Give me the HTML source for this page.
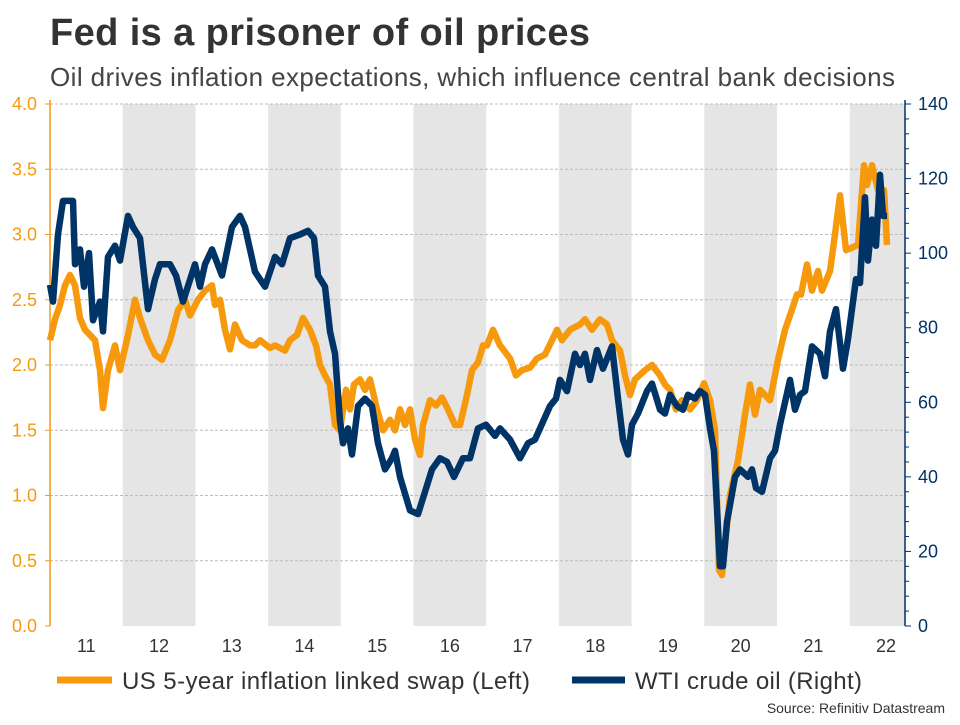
<!DOCTYPE html>
<html><head><meta charset="utf-8"><style>
body{margin:0;background:#fff;width:960px;height:720px;overflow:hidden;font-family:"Liberation Sans",Arial,sans-serif}
</style></head><body>
<svg id="chart" width="960" height="720" xmlns="http://www.w3.org/2000/svg">
<text x="50" y="45" font-size="38" font-weight="bold" fill="#333" textLength="540">Fed is a prisoner of oil prices</text>
<text x="50" y="86" font-size="26" fill="#444" textLength="845">Oil drives inflation expectations, which influence central bank decisions</text>
<g id="bands"></g><g id="grid"></g><g id="axes"></g><g id="series"></g>
<g>
<line x1="57" y1="680" x2="112" y2="680" stroke="#f7990d" stroke-width="7"/>
<text x="122" y="689" font-size="24" fill="#333" textLength="408">US 5-year inflation linked swap (Left)</text>
<line x1="572" y1="680" x2="625" y2="680" stroke="#003366" stroke-width="7"/>
<text x="635" y="689" font-size="24" fill="#333" textLength="227">WTI crude oil (Right)</text>
</g>
<text x="945" y="713" font-size="14" fill="#333" text-anchor="end">Source: Refinitiv Datastream</text>
</svg>
<script>
const swapX=[50,55,60,65,70,75,80,85,90,95,100,103,108,115,120,128,135,140,148,155,162,170,178,185,190,198,205,212,215,220,225,230,235,242,250,255,260,270,275,285,290,297,303,310,316,320,325,330,335,340,346,350,354,360,365,370,377,383,390,395,400,405,410,415,420,423,430,436,442,448,455,460,467,472,478,483,487,493,500,505,510,516,522,530,537,545,552,557,562,570,580,585,592,600,607,612,620,625,630,635,645,652,660,665,670,676,682,690,697,704,710,715,719,722,730,738,745,750,755,760,765,770,778,785,790,797,801,807,812,818,822,830,835,840,846,852,858,864,867,872,878,884,887];
const swapVals=[2.19,2.35,2.46,2.61,2.69,2.61,2.36,2.27,2.23,2.19,1.96,1.67,1.96,2.15,1.96,2.23,2.5,2.36,2.19,2.08,2.04,2.19,2.42,2.5,2.38,2.5,2.57,2.61,2.46,2.5,2.27,2.12,2.31,2.19,2.15,2.15,2.19,2.13,2.15,2.11,2.19,2.23,2.36,2.27,2.15,2.0,1.92,1.85,1.54,1.5,1.81,1.66,1.85,1.89,1.81,1.89,1.66,1.5,1.58,1.5,1.66,1.54,1.66,1.43,1.31,1.54,1.73,1.69,1.75,1.66,1.54,1.54,1.77,1.96,2.02,2.15,2.15,2.27,2.15,2.1,2.05,1.92,1.96,1.98,2.05,2.08,2.19,2.27,2.19,2.27,2.31,2.35,2.27,2.35,2.31,2.19,2.11,1.92,1.77,1.89,1.96,2.0,1.92,1.85,1.81,1.66,1.73,1.66,1.73,1.86,1.73,1.5,0.43,0.39,1.0,1.27,1.62,1.85,1.62,1.81,1.77,1.73,2.04,2.27,2.38,2.54,2.54,2.77,2.57,2.72,2.57,2.72,3.0,3.3,2.88,2.9,2.92,3.53,3.38,3.53,3.34,3.34,2.92];
const oilX=[50,53,58,63,68,73,75,80,84,89,93,100,103,108,115,120,128,133,140,148,155,160,170,176,183,195,200,205,212,222,232,240,245,255,265,275,282,290,300,308,314,318,325,330,335,340,343,348,352,358,365,372,378,385,392,395,400,410,418,425,432,440,447,454,463,470,478,486,495,500,510,520,528,535,540,550,556,560,567,575,580,585,590,597,603,612,618,623,628,632,638,647,652,660,665,670,677,683,688,695,700,705,710,714,720,723,727,735,740,748,752,756,762,770,775,780,790,795,800,805,812,820,825,830,836,843,848,856,860,865,868,872,876,880,883,887];
const oilVals=[91.5,87,105,114,114,114,97,101,91,100,82,87,79,99,102,98,110,107,104,85,93,97,97,94,87,97,91,97,101,94,107,110,107,95,91,99,97,104,105,106,104,94,91,79,73,55,49,53,46,59,61,59,49,42,45,47,40,31,30,36,42,45,44,40,45,45,53,54,51,53,50,45,49,50,53,59,61,66,63,73,70,73,66,74,69,75,61,50,46,54,57,63,65,58,57,62,59,58,62,61,63,62,53,47,16,16,28,40,42,40,42,37,36,45,47,54,66,58,62,63,75,73,67,79,85,69,77,93,92,115,98,109,102,121,110,110];
const leftTicks=["0.0","0.5","1.0","1.5","2.0","2.5","3.0","3.5","4.0"];
const rightTicks=["0","20","40","60","80","100","120","140"];
const yearLabels=["11","12","13","14","15","16","17","18","19","20","21","22"];
const NS="http://www.w3.org/2000/svg";
const X0=50,X1=905,YT=104,YB=626,YW=72.7;
function yL(v){return YB-(v/4)*(YB-YT);}
function yR(v){return YB-(v/140)*(YB-YT);}
function mk(tag,attrs,parent){const e=document.createElementNS(NS,tag);for(const k in attrs)e.setAttribute(k,attrs[k]);document.getElementById(parent).appendChild(e);return e;}
yearLabels.forEach((lab,i)=>{
  const xs=X0+i*YW;
  if(i%2===1){const r=mk('rect',{x:xs,y:YT,width:Math.min(YW,X1-xs),height:YB-YT,fill:'#e5e5e5'},'bands');
  
  }
  const t=mk('text',{x:xs+YW/2,y:652,'font-size':18,fill:'#333','text-anchor':'middle'},'axes');t.textContent=lab;
  
  
});
leftTicks.forEach(s=>{
  const v=parseFloat(s),y=yL(v);
  if(v>0){const g=mk('line',{x1:X0,x2:X1,y1:y,y2:y,stroke:'#bbb','stroke-dasharray':'3,2','stroke-width':1},'grid');
  
  }
  mk('line',{x1:X0-5,x2:X0,y1:y,y2:y,stroke:'#f7990d'},'axes');
  const t=mk('text',{x:37,y:y+6,'font-size':18,fill:'#f7990d','text-anchor':'end'},'axes');t.textContent=s;
  
  
});
for(let v=0;v<=140;v+=4){const y=yR(v);mk('line',{x1:X1,x2:X1+(v%20===0?6:4),y1:y,y2:y,stroke:'#003366'},'axes');}
rightTicks.forEach(s=>{const y=yR(parseFloat(s));
  const t=mk('text',{x:918,y:y+6,'font-size':18,fill:'#003366'},'axes');t.textContent=s;
  
  });
const la=mk('line',{x1:X0,x2:X0,y1:YT-4,y2:YB,stroke:'#f7990d','stroke-width':1.5},'axes');


const ra=mk('line',{x1:X1,x2:X1,y1:YT-4,y2:YB,stroke:'#003366','stroke-width':1.5},'axes');


const sp=mk('polyline',{points:swapX.map((x,i)=>x+','+yL(swapVals[i]).toFixed(1)).join(' '),fill:'none',stroke:'#f7990d','stroke-width':6.5,'stroke-linejoin':'round'},'series');


const op=mk('polyline',{points:oilX.map((x,i)=>x+','+yR(oilVals[i]).toFixed(1)).join(' '),fill:'none',stroke:'#003366','stroke-width':6.5,'stroke-linejoin':'round'},'series');


</script>
</body></html>
